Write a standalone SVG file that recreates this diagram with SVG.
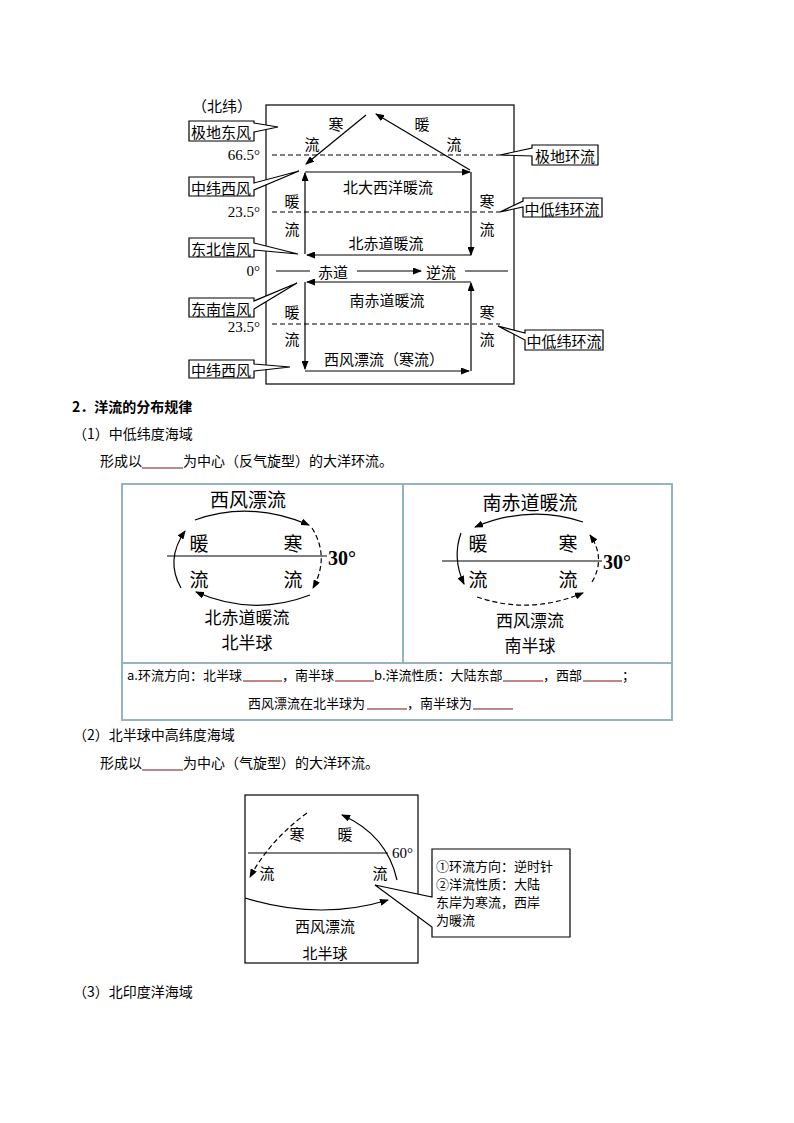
<svg xmlns="http://www.w3.org/2000/svg" width="794" height="1123" viewBox="0 0 794 1123">
<style>
text{font-family:"Noto Sans CJK SC","Liberation Sans",sans-serif;fill:#000}
.t15{font-size:15px;dominant-baseline:central;text-anchor:middle}
.num{font-family:"Liberation Serif","Noto Sans CJK SC",serif;font-size:15px;dominant-baseline:central;text-anchor:end}
.ln{stroke:#000;stroke-width:1.2;fill:none}
.dash{stroke:#000;stroke-width:1.2;stroke-dasharray:5,3;fill:none}
.co{fill:#fff;stroke:#000;stroke-width:1.2}
.big{font-size:19px;dominant-baseline:central;text-anchor:middle}
.big2{font-size:17px;dominant-baseline:central;text-anchor:middle}
.deg{font-family:"Liberation Serif",serif;font-size:20px;font-weight:bold;dominant-baseline:central}
.body{font-size:14px}
.tb{font-size:13px}
.ul{stroke:#7a1010;stroke-width:1}
.tbl{stroke:#94b4c4;stroke-width:2;fill:none}
.m15{font-size:15px;dominant-baseline:central;text-anchor:middle}
.cot{font-size:13px}
</style>
<defs>
<marker id="ah" markerWidth="9" markerHeight="7" refX="8" refY="3.5" orient="auto" markerUnits="userSpaceOnUse">
<path d="M0,0 L9,3.5 L0,7 z" fill="#000"/>
</marker>
</defs>

<!-- Top diagram -->
<g id="top-frame">
<rect x="266" y="105" width="248" height="279" class="ln"/>
<text class="t15" x="222" y="105">（北纬）</text>
<text class="num" x="260" y="155">66.5°</text>
<text class="num" x="260" y="212">23.5°</text>
<text class="num" x="260" y="271">0°</text>
<text class="num" x="260" y="327">23.5°</text>
</g>
<g id="latlines">
<line x1="272" y1="155" x2="500" y2="155" class="dash"/>
<line x1="272" y1="212" x2="500" y2="212" class="dash"/>
<line x1="272" y1="324" x2="500" y2="324" class="dash"/>
</g>
<g id="callouts-left">
<g id="c-jidi"><path class="co" d="M189,121 H254 V123 L278,127 L254,132 V141 H189 Z"/><text class="t15" x="221" y="131">极地东风</text></g>
<g id="c-zwxf1"><path class="co" d="M189,177 H254 V183 L299,171 L254,190 V196 H189 Z"/><text class="t15" x="221" y="187">中纬西风</text></g>
<g id="c-dbxf"><path class="co" d="M189,238 H254 V243 L298,254 L254,250 V257 H189 Z"/><text class="t15" x="221" y="248">东北信风</text></g>
<g id="c-dnxf"><path class="co" d="M189,298 H254 V301 L297,283 L254,309 V317 H189 Z"/><text class="t15" x="221" y="308">东南信风</text></g>
<g id="c-zwxf2"><path class="co" d="M189,360 H254 V364 L290,367 L254,371 V378 H189 Z"/><text class="t15" x="221" y="369">中纬西风</text></g>
</g>
<g id="callouts-right">
<g id="c-jdhl"><path class="co" d="M598,145 H532 V148 L500,155 L532,156 V165 H598 Z"/><text class="t15" x="565" y="155">极地环流</text></g>
<g id="c-zdw1"><path class="co" d="M602,198 H523 V201 L500,212 L523,207 V217 H602 Z"/><text class="t15" x="562" y="208">中低纬环流</text></g>
<g id="c-zdw2"><path class="co" d="M603,330 H525 V333 L498,326 L525,340 V350 H603 Z"/><text class="t15" x="564" y="340">中低纬环流</text></g>
</g>
<g id="connectors-top">
<line x1="366" y1="115" x2="306" y2="164" class="ln" marker-end="url(#ah)"/>
<line x1="470" y1="170" x2="376" y2="114" class="ln" marker-end="url(#ah)"/>
<line x1="305" y1="254" x2="305" y2="173" class="ln" marker-end="url(#ah)"/>
<line x1="305" y1="172" x2="470" y2="172" class="ln" marker-end="url(#ah)"/>
<line x1="471" y1="172" x2="471" y2="255" class="ln" marker-end="url(#ah)"/>
<line x1="471" y1="255" x2="307" y2="255" class="ln" marker-end="url(#ah)"/>
<line x1="276" y1="271" x2="310" y2="271" class="ln"/>
<line x1="357" y1="271" x2="421" y2="271" class="ln" marker-end="url(#ah)"/>
<line x1="465" y1="271" x2="508" y2="271" class="ln"/>
<line x1="471" y1="371" x2="471" y2="283" class="ln" marker-end="url(#ah)"/>
<line x1="471" y1="282" x2="307" y2="282" class="ln" marker-end="url(#ah)"/>
<line x1="305" y1="282" x2="305" y2="369" class="ln" marker-end="url(#ah)"/>
<line x1="305" y1="371" x2="469" y2="371" class="ln" marker-end="url(#ah)"/>
</g>
<g id="top-labels">
<text class="t15" x="336" y="123">寒</text>
<text class="t15" x="312" y="143">流</text>
<text class="t15" x="422" y="123">暖</text>
<text class="t15" x="454" y="143">流</text>
<text class="t15" x="388" y="186">北大西洋暖流</text>
<text class="t15" x="292" y="200">暖</text>
<text class="t15" x="292" y="228">流</text>
<text class="t15" x="487" y="200">寒</text>
<text class="t15" x="487" y="228">流</text>
<text class="t15" x="386" y="242">北赤道暖流</text>
<text class="t15" x="333" y="271">赤道</text>
<text class="t15" x="441" y="271">逆流</text>
<text class="t15" x="387" y="299">南赤道暖流</text>
<text class="t15" x="292" y="311">暖</text>
<text class="t15" x="292" y="338">流</text>
<text class="t15" x="487" y="311">寒</text>
<text class="t15" x="487" y="338">流</text>
<text class="t15" x="384" y="358">西风漂流（寒流）</text>
</g>

<!-- Section 2 text -->
<g id="sec2">
<text class="body" x="72" y="412" font-weight="bold">2．洋流的分布规律</text>
<text class="body" x="73" y="439">（1）中低纬度海域</text>
<text class="body" x="100" y="466">形成以</text>
<line x1="142" y1="468" x2="183" y2="468" class="ul"/>
<text class="body" x="183" y="466">为中心（反气旋型）的大洋环流。</text>
</g>

<!-- Table -->
<g id="table">
<rect x="122" y="484" width="550" height="236" class="tbl"/>
<line x1="403" y1="484" x2="403" y2="663" class="tbl"/>
<line x1="122" y1="663" x2="672" y2="663" class="tbl"/>
</g>
<g id="nh-gyre">
<text class="big" x="248" y="498">西风漂流</text>
<line x1="167" y1="556" x2="327" y2="556" class="ln"/>
<text class="deg" x="328" y="558">30°</text>
<text class="big" x="199" y="542">暖</text>
<text class="big" x="293" y="542">寒</text>
<text class="big" x="199" y="578">流</text>
<text class="big" x="293" y="578">流</text>
<text class="big2" x="247" y="616">北赤道暖流</text>
<text class="big2" x="247" y="641">北半球</text>
</g>
<g id="sh-gyre">
<text class="big" x="530" y="501">南赤道暖流</text>
<line x1="442" y1="561" x2="602" y2="561" class="ln"/>
<text class="deg" x="603" y="562">30°</text>
<text class="big" x="478" y="542">暖</text>
<text class="big" x="568" y="542">寒</text>
<text class="big" x="478" y="578">流</text>
<text class="big" x="568" y="578">流</text>
<text class="big2" x="530" y="619">西风漂流</text>
<text class="big2" x="530" y="644">南半球</text>
</g>
<g id="connectors-gyres">
<path d="M195,520 Q250,500 309,525" class="ln" marker-end="url(#ah)"/>
<path d="M312,528 Q330,557 313,588" class="dash" marker-end="url(#ah)"/>
<path d="M310,595 Q253,617 196,592" class="ln" marker-end="url(#ah)"/>
<path d="M181,588 Q165,560 185,531" class="ln" marker-end="url(#ah)"/>
<path d="M583,522 Q530,504 475,527" class="ln" marker-end="url(#ah)"/>
<path d="M461,533 Q452,558 464,584" class="ln" marker-end="url(#ah)"/>
<path d="M477,597 Q530,615 583,593" class="dash" marker-end="url(#ah)"/>
<path d="M592,582 Q606,558 590,535" class="dash" marker-end="url(#ah)"/>
</g>
<g id="table-row2">
<text class="tb" x="127" y="680">a.环流方向：北半球</text>
<line x1="243" y1="681" x2="282" y2="681" class="ul"/>
<text class="tb" x="282" y="680">，南半球</text>
<line x1="335" y1="681" x2="374" y2="681" class="ul"/>
<text class="tb" x="374" y="680">b.洋流性质：大陆东部</text>
<line x1="503" y1="681" x2="543" y2="681" class="ul"/>
<text class="tb" x="543" y="680">，西部</text>
<line x1="583" y1="681" x2="622" y2="681" class="ul"/>
<text class="tb" x="622" y="680">；</text>
<text class="tb" x="248" y="708">西风漂流在北半球为</text>
<line x1="367" y1="709" x2="407" y2="709" class="ul"/>
<text class="tb" x="407" y="708">，南半球为</text>
<line x1="473" y1="709" x2="513" y2="709" class="ul"/>
</g>

<g id="sec2-2">
<text class="body" x="73" y="740">（2）北半球中高纬度海域</text>
<text class="body" x="100" y="768">形成以</text>
<line x1="142" y1="770" x2="183" y2="770" class="ul"/>
<text class="body" x="183" y="768">为中心（气旋型）的大洋环流。</text>
</g>

<!-- Third diagram -->
<g id="nh-high">
<rect x="245" y="795" width="173" height="168" class="ln"/>
<line x1="248" y1="853" x2="388" y2="853" class="ln"/>
<text class="num" x="392" y="853" style="text-anchor:start">60°</text>
<text class="m15" x="297" y="833">寒</text>
<text class="m15" x="345" y="833">暖</text>
<text class="m15" x="267" y="872">流</text>
<text class="m15" x="380" y="872">流</text>
<text class="m15" x="325" y="925">西风漂流</text>
<text class="m15" x="325" y="952">北半球</text>
</g>
<g id="connectors-high">
<path d="M307,813 Q270,840 250,877" class="dash" marker-end="url(#ah)"/>
<path d="M397,880 Q387,835 342,815" class="ln" marker-end="url(#ah)"/>
<path d="M245,898 Q320,921 388,900" class="ln" marker-end="url(#ah)"/>
</g>
<g id="callout-high">
<path class="co" d="M432,849 H570 V937 H432 V927 L375,885 L432,897 Z"/>
<text class="cot" x="436" y="871">①环流方向：逆时针</text>
<text class="cot" x="436" y="889">②洋流性质：大陆</text>
<text class="cot" x="436" y="907">东岸为寒流，西岸</text>
<text class="cot" x="436" y="925">为暖流</text>
</g>

<g id="sec3">
<text class="body" x="73" y="997">（3）北印度洋海域</text>
</g>
</svg>
